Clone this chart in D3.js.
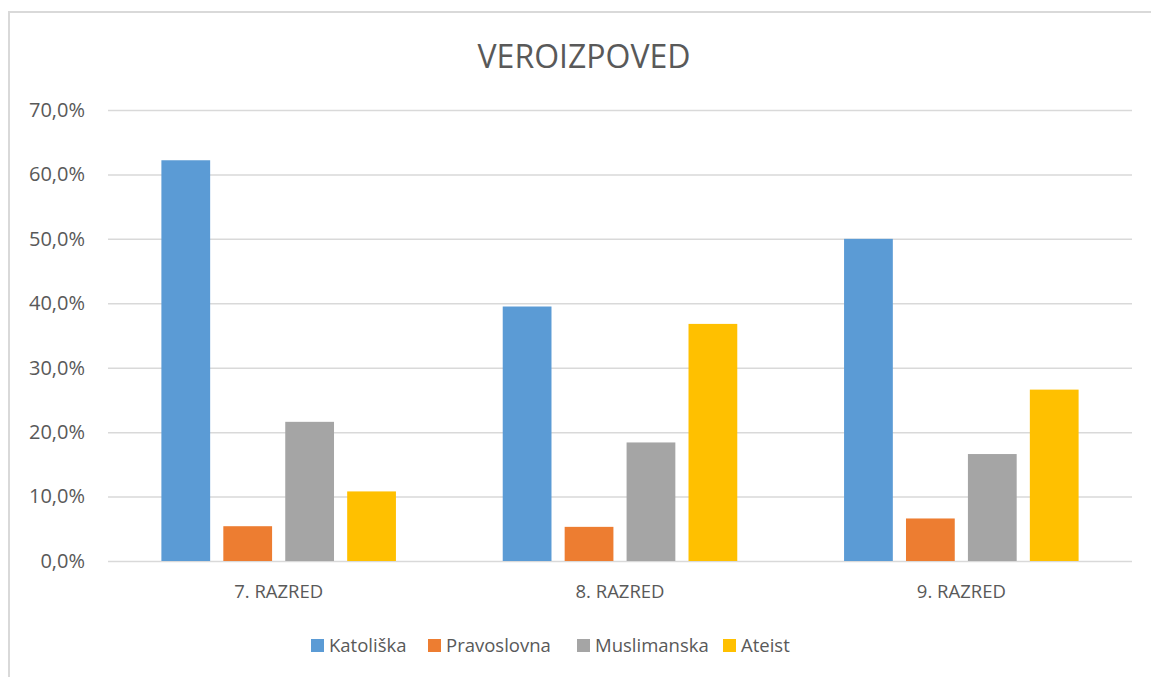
<!DOCTYPE html>
<html>
<head>
<meta charset="utf-8">
<script src="https://cdn.jsdelivr.net/npm/d3@7"></script>
<style>
  body { margin: 0; background: #fff; }
  text { font-family: "Open Sans", sans-serif; fill: #595959; }
</style>
</head>
<body>
<svg id="chart" width="1151" height="677"></svg>
<script>
// data
var categories = ["7. RAZRED", "8. RAZRED", "9. RAZRED"];
var series = ["Katoliška", "Pravoslovna", "Muslimanska", "Ateist"];
var katoliska = [62.2, 39.5, 50.0];
var pravoslovna = [5.4, 5.3, 6.6];
var muslimanska = [21.6, 18.4, 16.6];
var ateist = [10.8, 36.8, 26.6];
var yTicks = [0, 10, 20, 30, 40, 50, 60, 70];

var colors = ["#5b9bd5", "#ed7d31", "#a5a5a5", "#ffc000"];
var values = [katoliska, pravoslovna, muslimanska, ateist];

var data = categories.map(function(c, i) {
  var row = { cat: c };
  series.forEach(function(s, j) { row[s] = values[j][i]; });
  return row;
});

var svg = d3.select("#chart"),
  margin = { top: 110, left: 108, bottom: 116, right: 19 },
  width = +svg.attr("width"),
  height = +svg.attr("height");

// chart area border (top and left are the only visible edges)
svg.append("rect")
  .attr("x", 9)
  .attr("y", 12)
  .attr("width", 1160)
  .attr("height", 700)
  .attr("fill", "none")
  .attr("stroke", "#d9d9d9")
  .attr("stroke-width", 2);

var x0 = d3.scaleBand()
  .domain(categories)
  .range([margin.left, width - margin.right]);

// excel style: gap width ~219%, overlap -27%
var barW = x0.bandwidth() / 7;
var x1 = d3.scaleBand()
  .domain(series)
  .range([0, 4 * barW + 3 * 0.27 * barW])
  .paddingInner(0.27 / 1.27);

var y = d3.scaleLinear()
  .domain([0, 70])
  .range([height - margin.bottom, margin.top]);

// gridlines
var yAxis = svg.append("g")
  .attr("class", "y-axis")
  .attr("transform", `translate(${margin.left},0)`)
  .call(d3.axisLeft(y)
    .tickValues(yTicks)
    .tickSize(-(width - margin.left - margin.right))
    .tickPadding(23)
    .tickFormat(d => d.toFixed(1).replace(".", ",") + "%"));

yAxis.select(".domain").remove();
yAxis.selectAll("line").attr("stroke", "#d9d9d9").attr("stroke-width", 1.5);
yAxis.selectAll("text")
  .style("font-size", "20px")
  .style("font-family", "'Open Sans', sans-serif")
  .attr("fill", "#595959");

// bars
var groups = svg.append("g")
  .selectAll("g")
  .data(data)
  .enter()
  .append("g")
  .attr("transform", d => `translate(${x0(d.cat) + (x0.bandwidth() - x1.range()[1]) / 2},0)`);

groups.selectAll("rect")
  .data(d => series.map((s, j) => ({ key: s, value: d[s], color: colors[j] })))
  .enter()
  .append("rect")
  .attr("x", d => x1(d.key))
  .attr("width", x1.bandwidth())
  .attr("y", d => y(d.value))
  .attr("height", d => y(0) - y(d.value))
  .attr("fill", d => d.color);

// x axis labels
var xAxis = svg.append("g")
  .attr("class", "x-axis")
  .attr("transform", `translate(0,${y(0)})`)
  .call(d3.axisBottom(x0).tickSize(0).tickPadding(24));

xAxis.select(".domain").remove();
xAxis.selectAll("text")
  .style("font-size", "18.5px")
  .style("font-family", "'Open Sans', sans-serif")
  .attr("fill", "#595959");

// title
svg.append("text")
  .attr("x", 584)
  .attr("y", 68)
  .attr("text-anchor", "middle")
  .style("font-size", "32px")
  .text("VEROIZPOVED");

// legend
var legendX = [311, 428, 577, 723];
var legend = svg.selectAll(".legend")
  .data(series)
  .enter()
  .append("g")
  .attr("class", "legend")
  .attr("transform", (d, i) => `translate(${legendX[i]},639)`);

legend.append("rect")
  .attr("width", 13)
  .attr("height", 13)
  .attr("fill", (d, i) => colors[i]);

legend.append("text")
  .attr("x", 18)
  .attr("y", 13)
  .style("font-size", "18.5px")
  .text(d => d);
</script>
</body>
</html>
